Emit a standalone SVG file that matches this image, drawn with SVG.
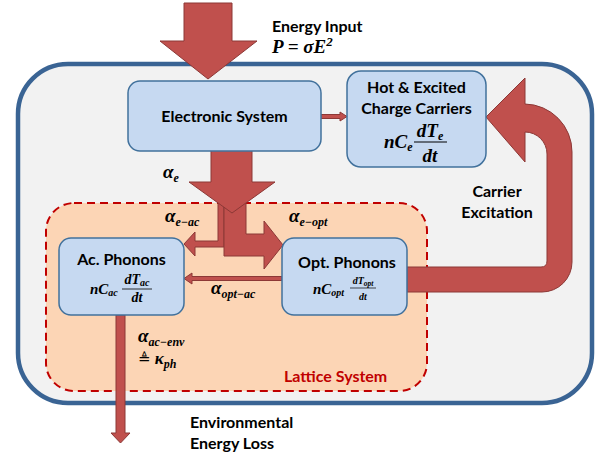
<svg xmlns="http://www.w3.org/2000/svg" width="601" height="459" viewBox="0 0 601 459">
<style>
.lbl{font-family:Lato,"Open Sans","Liberation Sans",sans-serif;font-weight:bold;font-size:16px;fill:#000}
.m{font-family:"Liberation Serif","DejaVu Serif",serif;font-weight:bold;font-style:italic;fill:#000}
.box{fill:#C6D9F1;stroke:#41719C;stroke-width:1.5}
.arr{fill:#C0504D;stroke:#8C3836;stroke-width:1}
</style>
<rect width="601" height="459" fill="#fff"/>
<g id="container">
<rect x="18" y="64" width="574" height="339" rx="50" fill="#F2F2F2" stroke="#3A6494" stroke-width="4.5"/>
</g>
<g id="lattice">
<rect x="46" y="203" width="381" height="188" rx="28" fill="#FCD5B5" stroke="#C00000" stroke-width="2" stroke-dasharray="8 5"/>
<text class="lbl" x="284" y="382" style="fill:#C00000">Lattice System</text>
</g>
<g id="connectors">
<path class="arr" d="M184,3 H232 V41 H257 L208,79 L160,41 H184 Z"/>
<path class="arr" d="M321,114.5 H340 V112 L347,116.5 L340,121 V118.5 H321 Z"/>
<path class="arr" d="M218,200 H224 V247 H195 V256 L184,244 L195,232 V241 H218 Z"/>
<path class="arr" d="M224,200 H246 V234 H264 V221 L283,245 L264,269 V256 H224 Z"/>
<path class="arr" d="M211,150 H252 V182 H275 L232,213 L189,182 H211 Z"/>
<path class="arr" d="M282,276.5 H192 V273 L184,278.5 L192,284 V280.5 H282 Z"/>
<path class="arr" d="M116,315 H125 V433 H130 L120.5,443 L111,433 H116 Z"/>
<path class="arr" d="M407,267 H541 Q547,267 547,261 V154 A22,22 0 0 0 525,132 V162 L486,117 L525,78 V104 A48,48 0 0 1 572,152 V262 A30,30 0 0 1 542,292 H407 Z"/>
</g>
<g id="electronic">
<rect class="box" x="128" y="81" width="193" height="70" rx="12"/>
<text class="lbl" x="224.5" y="122" text-anchor="middle">Electronic System</text>
</g>
<g id="hot">
<rect class="box" x="347" y="71" width="139" height="96" rx="14"/>
<text class="lbl" x="416.5" y="93" text-anchor="middle">Hot &amp; Excited</text>
<text class="lbl" x="416.5" y="114" text-anchor="middle">Charge Carriers</text>
<text class="m" x="384" y="148" font-size="19">nC<tspan font-size="12" dy="3">e</tspan></text>
<text class="m" x="430" y="137" font-size="19" text-anchor="middle">dT<tspan font-size="12" dy="3">e</tspan></text>
<line x1="414" y1="142" x2="447" y2="142" stroke="#000" stroke-width="1"/>
<text class="m" x="430" y="162" font-size="19" text-anchor="middle">dt</text>
</g>
<g id="ac">
<rect class="box" x="59" y="238" width="125" height="77" rx="12"/>
<text class="lbl" x="121.5" y="265" text-anchor="middle">Ac. Phonons</text>
<text class="m" x="90" y="294" font-size="15">nC<tspan font-size="10" dy="2">ac</tspan></text>
<text class="m" x="137" y="284" font-size="14" text-anchor="middle">dT<tspan font-size="10" dy="2">ac</tspan></text>
<line x1="122" y1="289" x2="152" y2="289" stroke="#000" stroke-width="0.8"/>
<text class="m" x="137" y="302" font-size="14" text-anchor="middle">dt</text>
</g>
<g id="opt">
<rect class="box" x="282" y="238" width="125" height="77" rx="12"/>
<text class="lbl" x="347" y="268" text-anchor="middle">Opt. Phonons</text>
<text class="m" x="313" y="294" font-size="15">nC<tspan font-size="10" dy="2">opt</tspan></text>
<text class="m" x="363" y="284" font-size="10" text-anchor="middle">dT<tspan font-size="7.5" dy="2">opt</tspan></text>
<line x1="350" y1="288" x2="376" y2="288" stroke="#000" stroke-width="0.7"/>
<text class="m" x="363" y="300" font-size="10" text-anchor="middle">dt</text>
</g>
<g id="labels">
<text class="lbl" x="272" y="32">Energy Input</text>
<text class="m" x="272" y="53" font-size="19">P = σE<tspan font-size="13" dy="-7">2</tspan></text>
<text class="m" x="163" y="178" font-size="19">α<tspan font-size="12" dy="4">e</tspan></text>
<text class="m" x="165" y="222" font-size="19">α<tspan font-size="12" dy="4">e−ac</tspan></text>
<text class="m" x="289" y="222" font-size="19">α<tspan font-size="12" dy="4">e−opt</tspan></text>
<text class="m" x="211" y="294" font-size="19">α<tspan font-size="12" dy="4">opt−ac</tspan></text>
<text class="m" x="138" y="342" font-size="19">α<tspan font-size="12" dy="4">ac−env</tspan></text>
<text class="m" x="138" y="364" font-size="17"><tspan style="font-family:'DejaVu Sans',sans-serif;font-style:normal;font-weight:normal" font-size="15">≜</tspan> κ<tspan font-size="12" dy="4">ph</tspan></text>
<text class="lbl" x="497" y="197" text-anchor="middle">Carrier</text>
<text class="lbl" x="497" y="218" text-anchor="middle">Excitation</text>
<text class="lbl" x="190" y="428">Environmental</text>
<text class="lbl" x="190" y="449">Energy Loss</text>
</g>
</svg>
